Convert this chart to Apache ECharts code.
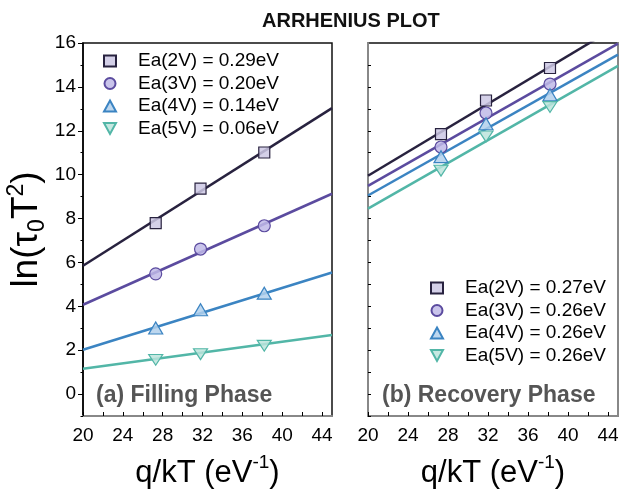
<!DOCTYPE html>
<html>
<head>
<meta charset="utf-8">
<script src="https://cdn.jsdelivr.net/npm/echarts@6/dist/echarts.min.js"></script>
<style>
  html, body { margin: 0; padding: 0; background: #fff; }
  #main { width: 619px; height: 489px; }
</style>
</head>
<body>
<div id="main"></div>
<script>
// q/kT of the three measurement temperatures (eV^-1)
const xPts = [27.3, 31.8, 38.2];
// x of the two ends of every fitted line
const fitX = [20, 45];

// (a) filling phase
const fillLabels = ['Ea(2V) = 0.29eV', 'Ea(3V) = 0.20eV', 'Ea(4V) = 0.14eV', 'Ea(5V) = 0.06eV'];
const fill2V = [7.79, 9.36, 11.01];
const fill3V = [5.48, 6.61, 7.67];
const fill4V = [3.01, 3.84, 4.60];
const fill5V = [1.56, 1.82, 2.20];
const fillFit2V = [5.85, 13.03];
const fillFit3V = [4.07, 9.13];
const fillFit4V = [2.02, 5.54];
const fillFit5V = [1.15, 2.69];

// (b) recovery phase
const recLabels = ['Ea(2V) = 0.27eV', 'Ea(3V) = 0.26eV', 'Ea(4V) = 0.26eV', 'Ea(5V) = 0.26eV'];
const rec2V = [11.85, 13.38, 14.86];
const rec3V = [11.26, 12.81, 14.13];
const rec4V = [10.82, 12.32, 13.64];
const rec5V = [10.18, 11.74, 13.08];
const recFit2V = [9.95, 16.78];
const recFit3V = [9.49, 15.97];
const recFit4V = [9.05, 15.47];
const recFit5V = [8.45, 14.96];

// ticks
const xTickLabels = [20, 24, 28, 32, 36, 40, 44];
const xTicks = [20, 22, 24, 26, 28, 30, 32, 34, 36, 38, 40, 42, 44];
const yTickLabels = [0, 2, 4, 6, 8, 10, 12, 14, 16];
const yMinorTicks = [-1, 1, 3, 5, 7, 9, 11, 13, 15];
const yRightTicks = [-1, 0, 1, 2, 3, 4, 5, 6, 7, 8, 9, 10, 11, 12, 13, 14, 15];

const FONT = 'Liberation Sans, Arial, sans-serif';
const lineColors = ['#28223f', '#5b4b9f', '#3b84c2', '#52b6a7'];
const fillColors = ['rgba(204,200,228,0.85)', 'rgba(192,186,232,0.85)', 'rgba(178,208,236,0.85)', 'rgba(188,228,220,0.85)'];
const symbols = ['rect', 'circle', 'triangle', 'path://M0,0L10,0L5,9Z'];
const symSizes = [11, 12, [14, 12], [14, 12]];

const pair = (xs, ys) => xs.map((x, i) => [x, ys[i]]);

function panelSeries(grid, yIdx, labels, pts, fits) {
  const out = [];
  fits.forEach((f, i) => {
    out.push({
      type: 'line', name: 'fit' + grid + i, xAxisIndex: grid, yAxisIndex: yIdx,
      data: pair(fitX, f), showSymbol: false, silent: true, clip: true,
      lineStyle: { color: lineColors[i], width: 2.5 }, z: 2
    });
  });
  pts.forEach((p, i) => {
    out.push({
      type: 'scatter', name: labels[i], xAxisIndex: grid, yAxisIndex: yIdx,
      data: pair(xPts, p), symbol: symbols[i], symbolSize: symSizes[i], symbolKeepAspect: true,
      itemStyle: { color: fillColors[i], borderColor: lineColors[i], borderWidth: 1.2, opacity: 1 }, z: 3
    });
  });
  return out;
}

const xNameRich = { sup: { fontSize: 19, verticalAlign: 'top', fontFamily: FONT, color: '#000' } };

function xAxis(grid) {
  return {
    type: 'value', gridIndex: grid, min: 20, max: 45,
    axisLine: { onZero: false, lineStyle: { color: '#888', width: 2 } },
    axisTick: { inside: true, length: 4, customValues: xTicks, lineStyle: { color: '#000', width: 1 } },
    axisLabel: { customValues: xTickLabels, fontSize: 19, color: '#000', fontFamily: FONT, margin: 10 },
    splitLine: { show: false },
    name: 'q/kT (eV{sup|-1})', nameLocation: 'middle', nameGap: 37,
    nameTextStyle: { fontSize: 31, color: '#000', fontFamily: FONT, lineHeight: 40, rich: xNameRich }
  };
}

const legendText = { fontSize: 19, color: '#000', fontFamily: FONT, lineHeight: 20, padding: [0, 0, 0, 17] };

const chart = echarts.init(document.getElementById('main'));
chart.setOption({
  backgroundColor: '#fff',
  animation: false,
  title: {
    text: 'ARRHENIUS PLOT', left: 257, top: 6,
    textStyle: { fontSize: 20, fontWeight: 'bold', color: '#111', fontFamily: FONT }
  },
  grid: [
    { left: 83, top: 43, width: 249, height: 373, outerBoundsMode: 'none', containLabel: false,
      show: true, borderColor: '#111', borderWidth: 1.5 },
    { left: 368, top: 43, width: 250, height: 373, outerBoundsMode: 'none', containLabel: false,
      show: true, borderColor: '#111', borderWidth: 1.5 }
  ],
  xAxis: [xAxis(0), xAxis(1)],
  yAxis: [
    {
      type: 'value', gridIndex: 0, min: -1, max: 16, position: 'left',
      axisLine: { show: true, onZero: false, lineStyle: { color: '#000', width: 1.5 } },
      axisTick: { show: true, length: 5, customValues: yTickLabels, lineStyle: { color: '#000' } },
      axisLabel: { customValues: yTickLabels, fontSize: 19, color: '#000', fontFamily: FONT, margin: 7 },
      splitLine: { show: false },
      name: 'ln(τ{sub|0}T{sup|2})', nameLocation: 'middle', nameGap: 34, nameRotate: 90,
      nameTextStyle: {
        fontSize: 37, color: '#000', fontFamily: FONT, lineHeight: 44,
        rich: {
          sub: { fontSize: 23, verticalAlign: 'bottom', fontFamily: FONT, color: '#000' },
          sup: { fontSize: 23, verticalAlign: 'top', fontFamily: FONT, color: '#000' }
        }
      }
    },
    {
      type: 'value', gridIndex: 0, min: -1, max: 16, position: 'left', offset: 0,
      axisLine: { show: false, onZero: false },
      axisTick: { show: true, length: 2.5, customValues: yMinorTicks, lineStyle: { color: '#000' } },
      axisLabel: { show: false }, splitLine: { show: false }
    },
    {
      type: 'value', gridIndex: 1, min: -1, max: 16, position: 'left',
      axisLine: { show: true, onZero: false, lineStyle: { color: '#888', width: 2 } },
      axisTick: { show: true, inside: true, length: 3, customValues: yRightTicks, lineStyle: { color: '#000' } },
      axisLabel: { show: false }, splitLine: { show: false }
    },
    {
      type: 'value', gridIndex: 1, min: -1, max: 16, position: 'right',
      axisLine: { show: true, onZero: false, lineStyle: { color: '#888', width: 2 } },
      axisTick: { show: false }, axisLabel: { show: false }, splitLine: { show: false }
    }
  ],
  legend: [
    {
      data: fillLabels, orient: 'vertical', left: 98, top: 46, itemWidth: 12, itemHeight: 11, itemGap: 2.5,
      textStyle: legendText
    },
    {
      data: recLabels, orient: 'vertical', left: 425, top: 273, itemWidth: 12, itemHeight: 11, itemGap: 2.5,
      textStyle: legendText
    }
  ],
  graphic: [
    {
      type: 'text', left: 96, top: 384, silent: true,
      style: { text: '(a) Filling Phase', font: 'bold 23px ' + FONT, fill: '#555' }
    },
    {
      type: 'text', left: 382, top: 384, silent: true,
      style: { text: '(b) Recovery Phase', font: 'bold 23px ' + FONT, fill: '#555' }
    }
  ],
  series: [
    ...panelSeries(0, 0, fillLabels, [fill2V, fill3V, fill4V, fill5V], [fillFit2V, fillFit3V, fillFit4V, fillFit5V]),
    ...panelSeries(1, 2, recLabels, [rec2V, rec3V, rec4V, rec5V], [recFit2V, recFit3V, recFit4V, recFit5V])
  ]
});
</script>
</body>
</html>
